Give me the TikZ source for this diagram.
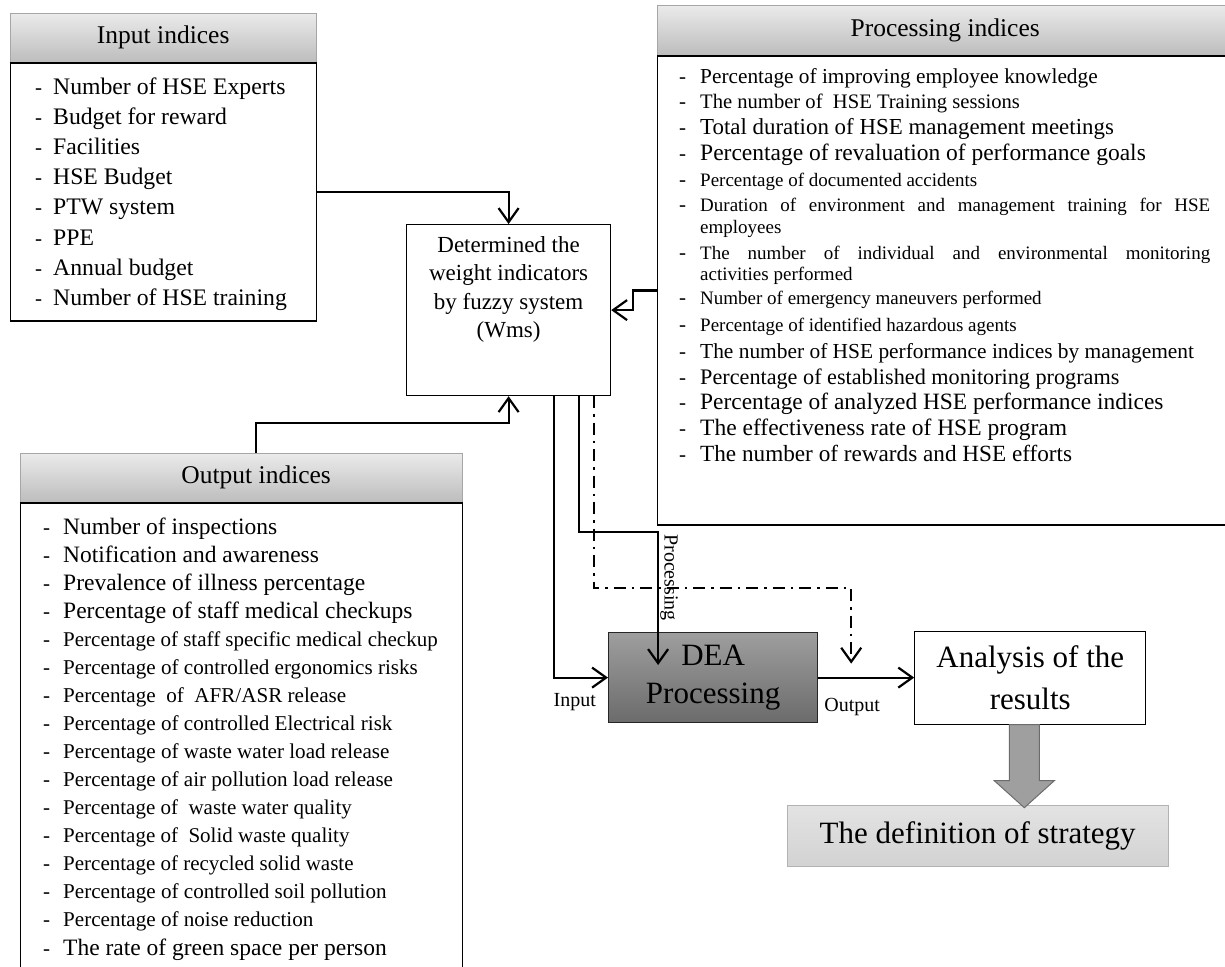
\documentclass[tikz,border=0pt]{standalone}
\usepackage{fontspec}
\setmainfont{Liberation Serif}
\usetikzlibrary{positioning,arrows.meta,calc}
\definecolor{hdtop}{gray}{0.92}
\definecolor{hdbot}{gray}{0.74}
\definecolor{deatop}{gray}{0.62}
\definecolor{deabot}{gray}{0.42}

\begin{document}
\begin{tikzpicture}[x=1pt, y=-1pt,
    hdr/.style={draw=gray!70, top color=hdtop, bottom color=hdbot, anchor=north west,
      inner sep=0pt, minimum height=49pt, font=\fontsize{25.5}{30}\selectfont},
    body/.style={draw, line width=1.2pt, inner sep=0pt, below=0pt of #1},
    bul/.style={anchor=base west, inner sep=0pt, font=\fontsize{21}{24}\selectfont},
    itm/.style={anchor=base west, inner sep=0pt, font=\fontsize{#1}{#1}\selectfont},
    conn/.style={line width=2.2pt, -{Straight Barb[length=14pt,width=20pt]}},
    lbl/.style={inner sep=1pt, font=\fontsize{20}{22}\selectfont},
    blk/.style={draw=gray!85!black, fill=gray!75, line width=1pt}
  ]
  \useasboundingbox (0,0) rectangle (1225,966);

  \node[hdr, minimum width=306pt] (inhead) at (10,13) {Input indices};
  \node[body=inhead, minimum width=306pt, minimum height=258pt] (inbody) {};
  \foreach \t [count=\k from 0] in {Number of HSE Experts, Budget for reward, Facilities,
      HSE Budget, PTW system, PPE, Annual budget, Number of HSE training}{
    \node[bul] (inb\k) at (35,94+30.2*\k) {-};
    \node[itm=23.7] (in\k) at (53,94+30.2*\k) {\t};
  }

  \node[hdr, minimum width=576pt, minimum height=50pt] (prochead) at (657,5) {Processing indices};
  \node[body=prochead, minimum width=576pt, minimum height=469pt] (procbody) {};
  \foreach \y/\s/\b/\t [count=\k] in {
      83/21.3/-/{Percentage of improving employee knowledge},
      108/20.6/-/{The number of\ \ HSE Training sessions},
      134/22.9/-/{Total duration of HSE management meetings},
      160/23.5/-/{Percentage of revaluation of performance goals},
      186/19/-/{Percentage of documented accidents},
      211/19/-/{\makebox[510pt][s]{Duration of environment and management training for HSE}},
      233/19//{employees},
      259/19/-/{\makebox[510pt][s]{The number of individual and environmental monitoring}},
      280/19//{activities performed},
      304/19/-/{Number of emergency maneuvers performed},
      331/19/-/{Percentage of identified hazardous agents},
      358/21.4/-/{The number of HSE performance indices by management},
      384/22.2/-/{Percentage of established monitoring programs},
      409/23.4/-/{Percentage of analyzed HSE performance indices},
      435/23.5/-/{The effectiveness rate of HSE program},
      461/23.2/-/{The number of rewards and HSE efforts}}{
    \node[bul] (prb\k) at (679,\y) {\b};
    \node[itm=\s] (pr\k) at (700,\y) {\t};
  }

  \node[hdr, minimum width=442pt] (outhead) at (20,453) {\hspace*{30pt}Output indices};
  \node[body=outhead, minimum width=442pt, minimum height=480pt] (outbody) {};
  \foreach \t/\s [count=\k from 0] in {
      {Number of inspections}/23.5,
      {Notification and awareness}/23.5,
      {Prevalence of illness percentage}/23.5,
      {Percentage of staff medical checkups}/23.5,
      {Percentage of staff specific medical checkup}/21,
      {Percentage of controlled ergonomics risks}/21.1,
      {Percentage\ \ of\ \ AFR/ASR release}/21.1,
      {Percentage of controlled Electrical risk}/21.1,
      {Percentage of waste water load release}/21.1,
      {Percentage of air pollution load release}/21.1,
      {Percentage of\ \ waste water quality}/21,
      {Percentage of\ \ Solid waste quality}/21,
      {Percentage of recycled solid waste}/21,
      {Percentage of controlled soil pollution}/21.1,
      {Percentage of noise reduction}/21.1,
      {The rate of green space per person}/23.5}{
    \node[bul] (outb\k) at (43,534+28.07*\k) {-};
    \node[itm=\s] (out\k) at (63,534+28.07*\k) {\t};
  }

  \node[draw, line width=1.2pt, anchor=north west, minimum width=204pt, minimum height=171pt] (wt) at (406,224) {};
  \node[below=12pt of wt.north, align=center, inner sep=0pt, font=\fontsize{23}{28.5}\selectfont] (wtt)
    {Determined the\\weight indicators\\by fuzzy system\\(Wms)};

  \node[draw=gray!30!black, line width=1.2pt, top color=deatop, bottom color=deabot, anchor=north west,
    minimum width=209pt, minimum height=90pt, align=center, font=\fontsize{31}{38}\selectfont] (dea) at (608,632) {DEA\\Processing};
  \node[draw, line width=1.2pt, minimum width=231pt, minimum height=93pt, align=center,
    font=\fontsize{31}{42}\selectfont, right=96pt of dea] (ana) {Analysis of the\\results};
  \node[draw=gray!60, top color=gray!22, bottom color=gray!35, anchor=north west, minimum width=381pt,
    minimum height=61pt, font=\fontsize{31}{36}\selectfont] (strat) at (787,805) {The definition of strategy};

  \draw[conn] (inbody.east) -| (wt.north);
  \draw[conn] (procbody.west) -- ++(-24,0) |- (wt.east);
  \draw[conn] ([xshift=15pt]outhead.north) -- ++(0,-30) -| (wt.south);
  \draw[conn] ([xshift=45pt]wt.south) |- (dea.west);
  \coordinate (dp) at ([xshift=-55pt,yshift=-33pt]dea.north);
  \draw[conn] ([xshift=70pt]wt.south) -- ++(0,136)
    -| node[lbl, pos=0.5, anchor=south west, rotate=-90] (plbl) {Processing} (dp);
  \coordinate (dd) at ([xshift=33pt,yshift=14pt]dea.east);
  \draw[conn, dash pattern=on 12pt off 6pt on 2.5pt off 6pt] ([xshift=85pt]wt.south) -- ++(0,192) -| (dd);
  \draw[conn] (dea.east) -- (dea.east -| ana.west);
  \node[lbl, below left=15pt and 11pt of dea.west] (inlbl) {Input};
  \node[lbl, below right=19pt and 5pt of dea.east] (outlbl) {Output};
  \draw[blk] ([xshift=-21pt]ana.south) -- ++(0,56) -- ++(-15,0) -- ++(30,27) -- ++(30,-27)
    -- ++(-15,0) -- ++(0,-56) -- cycle;
\end{tikzpicture}
\end{document}
